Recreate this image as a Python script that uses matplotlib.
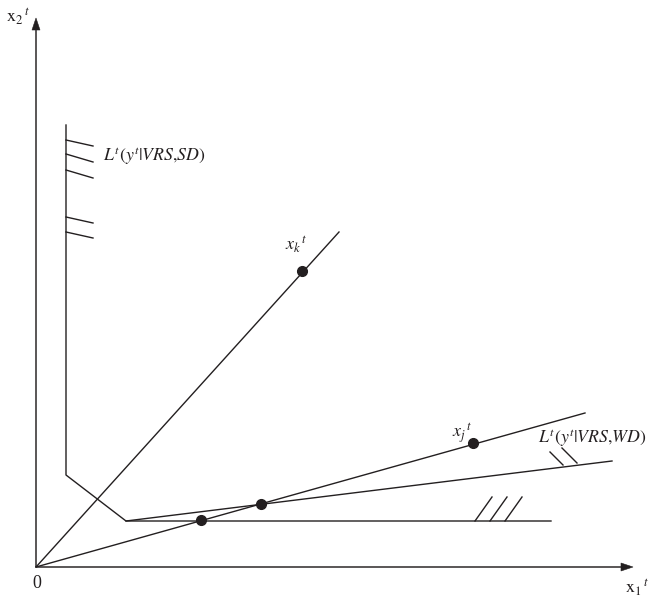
import matplotlib
matplotlib.use("Agg")
import matplotlib.pyplot as plt

plt.rcParams['font.family'] = ['Liberation Serif', 'DejaVu Serif']
plt.rcParams['mathtext.fontset'] = 'stix'

# Diagram geometry (model coordinates, origin at 0)
axis_x_end = (597, 0)
axis_y_end = (0, 549)

sd_frontier_x = [30, 30, 90, 515]
sd_frontier_y = [442, 92, 46, 46]

wd_frontier_x = [90, 576]
wd_frontier_y = [46, 106]

ray_k_x = [0, 303]
ray_k_y = [0, 335]
ray_j_x = [0, 549]
ray_j_y = [0, 154]

dots_x = [266, 437, 165, 225]
dots_y = [296, 124, 47, 63]

# hatch marks (start, end)
sd_hatch = [((30, 427), (57, 421)), ((30, 413), (57, 405)), ((30, 397), (57, 389)),
            ((30, 350), (57, 344)), ((30, 335), (57, 329))]
wd_hatch = [((514, 115), (527, 102)), ((526, 119), (541, 104))]
floor_hatch = [((439, 46), (456, 70)), ((454, 46), (471, 70)), ((469, 46), (486, 70))]

fig = plt.figure(figsize=(6.52, 5.99), dpi=100)
ax = fig.add_axes([0, 0, 1, 1])
ax.set_xlim(-36, 616)
ax.set_ylim(-32, 567)
ax.axis('off')

lw = 1.0
col = '#231f20'

# axes with arrows
ax.arrow(0, 0, axis_x_end[0], 0, width=0.8, head_width=8, head_length=12,
         length_includes_head=True, color=col, lw=0.4)
ax.arrow(0, 0, 0, axis_y_end[1], width=0.8, head_width=8, head_length=12,
         length_includes_head=True, color=col, lw=0.4)

ax.plot(sd_frontier_x, sd_frontier_y, color=col, lw=lw)
ax.plot(wd_frontier_x, wd_frontier_y, color=col, lw=lw)
ax.plot(ray_k_x, ray_k_y, color=col, lw=lw)
ax.plot(ray_j_x, ray_j_y, color=col, lw=lw)

for (a, b) in sd_hatch + wd_hatch + floor_hatch:
    ax.plot([a[0], b[0]], [a[1], b[1]], color=col, lw=lw)

ax.plot(dots_x, dots_y, 'o', color=col, markersize=7, zorder=5)

fs = 13
ax.text(-30, 545, r'$\mathrm{x}_2{}^{\,t}$', fontsize=fs, ha='left', va='baseline', color=col)
ax.text(0.7, -16, '0', fontsize=fs, ha='center', va='center', color=col)
ax.text(589, -26, r'$\mathrm{x}_1{}^{\,t}$', fontsize=fs, ha='left', va='baseline', color=col)
ax.text(67, 411, r'$L^t(y^t|VRS{,}SD)$', fontsize=12.8, ha='left', va='center', color=col)
ax.text(502, 129, r'$L^t(y^t|VRS{,}WD)$', fontsize=12.8, ha='left', va='center', color=col)
ax.text(249, 317, r'$x_k{}^{\,t}$', fontsize=fs, ha='left', va='baseline', color=col)
ax.text(416, 130, r'$x_j{}^{\,t}$', fontsize=fs, ha='left', va='baseline', color=col)

fig.savefig('out.png', dpi=100)
